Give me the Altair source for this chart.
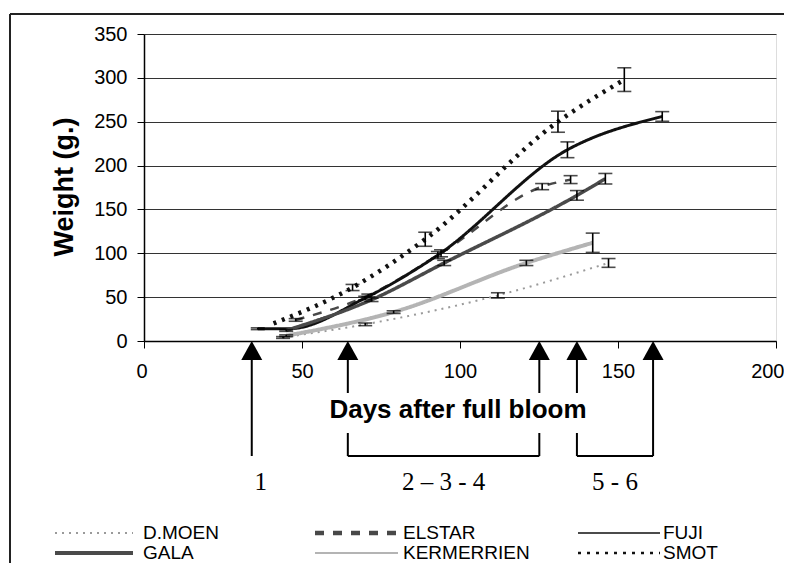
import altair as alt
import pandas as pd

# ---------------- data ----------------
varieties = ["D.MOEN", "ELSTAR", "FUJI", "GALA", "KERMERRIEN", "SMOT"]

dmoen_days = [44, 70, 112, 147]
dmoen_g = [4, 19, 52, 89]
dmoen_err = [1, 1.5, 3, 5]

elstar_days = [48, 71, 94, 126, 135]
elstar_g = [24, 52, 100, 176, 184]
elstar_err = [1.5, 1.5, 4, 3.5, 4.5]

fuji_days = [36, 46, 70, 93, 134, 164]
fuji_g = [14, 14, 49, 98, 218, 256]
fuji_err = [1, 0, 2, 4, 9, 5.5]

gala_days = [45, 72, 95, 137, 146]
gala_g = [12, 47, 89, 166, 185]
gala_err = [1, 2, 3, 5.5, 6]

kerm_days = [45, 79, 121, 142]
kerm_g = [6, 33, 89, 112]
kerm_err = [1, 1.5, 3, 11]

smot_days = [41, 66, 89, 131, 152]
smot_g = [20, 61, 116, 250, 298]
smot_err = [0, 3.5, 8, 12, 13.5]

arrow_days = [34.1, 64.5, 125.1, 137.0, 161.1]
group_labels = ["1", "2 \u2013 3 - 4", "5 - 6"]

x_ticks = [0, 50, 100, 150, 200]
y_ticks = [0, 50, 100, 150, 200, 250, 300, 350]

# ---------------- tables ----------------
series = {
    "D.MOEN": (dmoen_days, dmoen_g, dmoen_err),
    "ELSTAR": (elstar_days, elstar_g, elstar_err),
    "FUJI": (fuji_days, fuji_g, fuji_err),
    "GALA": (gala_days, gala_g, gala_err),
    "KERMERRIEN": (kerm_days, kerm_g, kerm_err),
    "SMOT": (smot_days, smot_g, smot_err),
}
rows = []
for v, (d, g, e) in series.items():
    for di, gi, ei in zip(d, g, e):
        rows.append({"variety": v, "day": di, "g": gi, "lo": gi - ei, "hi": gi + ei, "err": ei})
df = pd.DataFrame(rows)
err_df = df[df["err"] > 0]
caps_df = pd.concat([
    err_df.assign(cap=err_df["lo"]),
    err_df.assign(cap=err_df["hi"]),
])

arrows_df = pd.DataFrame({"day": arrow_days})
full_shafts = arrows_df.iloc[[0, 4]]
split_shafts = arrows_df.iloc[[1, 2, 3]]
brackets_df = pd.DataFrame({
    "d1": [arrow_days[1], arrow_days[3]],
    "d2": [arrow_days[2], arrow_days[4]],
})
label1_df = pd.DataFrame({"day": [arrow_days[0]], "t": [group_labels[0]]})
labels_df = pd.DataFrame({
    "day": [(arrow_days[1] + arrow_days[2]) / 2, (arrow_days[3] + arrow_days[4]) / 2],
    "t": group_labels[1:],
})

# ---------------- styles ----------------
colors = ["#9a9a9a", "#484848", "#111111", "#4a4a4a", "#b4b4b4", "#111111"]
dashes = [[2, 5], [9, 9], [1, 0], [1, 0], [1, 0], [3, 6]]
widths = [2, 4.5, 1.6, 4, 2, 2.5]

FONT = "Liberation Sans"
xscale = alt.Scale(domain=[0, 200], nice=False, zero=False)
yscale = alt.Scale(domain=[0, 350], nice=False, zero=False)

xaxis = alt.Axis(
    values=x_ticks, title=None, grid=False, domainColor="black", domainWidth=1.5,
    tickColor="black", tickSize=7, labelFontSize=20, labelFont=FONT, labelColor="black",
    labelPadding=13, labelFlush=True, labelFlushOffset=8, labelOverlap=False)
yaxis = alt.Axis(
    values=y_ticks, title=None, grid=True, gridColor="#333", gridWidth=1,
    domainColor="black", domainWidth=1.5, tickColor="black", tickSize=7,
    labelFontSize=20, labelFont=FONT, labelColor="black", labelPadding=10,
    labelFlush=False, labelOverlap=False)

X = lambda f: alt.X(f, scale=xscale, axis=xaxis)
Y = lambda f: alt.Y(f, scale=yscale, axis=yaxis)

lines = alt.Chart(df).mark_line(interpolate="monotone").encode(
    x=X("day:Q"),
    y=Y("g:Q"),
    color=alt.Color("variety:N", scale=alt.Scale(domain=varieties, range=colors), legend=None),
    strokeDash=alt.StrokeDash("variety:N", scale=alt.Scale(domain=varieties, range=dashes), legend=None),
    strokeWidth=alt.StrokeWidth("variety:N", scale=alt.Scale(domain=varieties, range=widths), legend=None),
    detail="variety:N",
    order="day:Q",
)

err_rules = alt.Chart(err_df).mark_rule(color="black", strokeWidth=1.6).encode(
    x=X("day:Q"), y=Y("lo:Q"), y2="hi:Q",
)
caps = alt.Chart(caps_df).mark_tick(color="black", orient="horizontal", size=14, thickness=1.6).encode(
    x=X("day:Q"), y=Y("cap:Q"),
)

# arrows
heads = alt.Chart(arrows_df).mark_point(
    shape="M0,-0.9L1,0.9L-1,0.9Z", size=441, filled=True, color="black", opacity=1
).encode(x=X("day:Q"), y=alt.value(316.5))
shafts_full = alt.Chart(full_shafts).mark_rule(color="black", strokeWidth=2).encode(
    x=X("day:Q"), y=alt.value(324), y2=alt.value(422))
shafts_up = alt.Chart(split_shafts).mark_rule(color="black", strokeWidth=2).encode(
    x=X("day:Q"), y=alt.value(324), y2=alt.value(359))
shafts_low = alt.Chart(split_shafts).mark_rule(color="black", strokeWidth=2).encode(
    x=X("day:Q"), y=alt.value(399), y2=alt.value(422))
brackets = alt.Chart(brackets_df).mark_rule(color="black", strokeWidth=2).encode(
    x=X("d1:Q"), x2="d2:Q", y=alt.value(422))
label1 = alt.Chart(label1_df).mark_text(
    font="Liberation Serif", fontSize=25, color="black", baseline="middle", align="center", dx=9
).encode(x=X("day:Q"), y=alt.value(448), text="t:N")
group_text = alt.Chart(labels_df).mark_text(
    font="Liberation Serif", fontSize=25, color="black", baseline="middle", align="center"
).encode(x=X("day:Q"), y=alt.value(448), text="t:N")

# titles
title_df = pd.DataFrame({"t": ["Days after full bloom"]})
x_title = alt.Chart(title_df).mark_text(
    font=FONT, fontSize=26, fontWeight="bold", color="black", baseline="middle", align="center"
).encode(x=alt.value(314), y=alt.value(376), text="t:N")
ytitle_df = pd.DataFrame({"t": ["Weight (g.)"]})
y_title = alt.Chart(ytitle_df).mark_text(
    font=FONT, fontSize=27, fontWeight="bold", color="black", baseline="middle", align="center", angle=270
).encode(x=alt.value(-79), y=alt.value(153), text="t:N")

# manual legend (3 columns x 2 rows)
leg_sym_x1 = [-89, 171, 434]
leg_sym_x2 = [-11, 254, 516]
leg_lab_x = [-1, 259, 519]
leg_row_y = [499, 519]
legend_layers = []
for i, v in enumerate(varieties):
    c, r = i % 3, i // 3
    one = pd.DataFrame({"t": [v]})
    legend_layers.append(
        alt.Chart(one).mark_rule(color=colors[i], strokeDash=dashes[i], strokeWidth=widths[i]).encode(
            x=alt.value(leg_sym_x1[c]), x2=alt.value(leg_sym_x2[c]), y=alt.value(leg_row_y[r]))
    )
    legend_layers.append(
        alt.Chart(one).mark_text(font=FONT, fontSize=19, color="black", align="left", baseline="middle").encode(
            x=alt.value(leg_lab_x[c]), y=alt.value(leg_row_y[r]), text="t:N")
    )

# outer frame
frame_df = pd.DataFrame({"k": [0]})
frame_left = alt.Chart(frame_df).mark_rule(color="#222", strokeWidth=2).encode(
    x=alt.value(-134), y=alt.value(-20), y2=alt.value(560))
frame_top = alt.Chart(frame_df).mark_rule(color="#222", strokeWidth=2).encode(
    x=alt.value(-134), x2=alt.value(700), y=alt.value(-20))

chart = alt.layer(
    frame_left, frame_top, lines, err_rules, caps, heads, shafts_full, shafts_up, shafts_low,
    brackets, label1, group_text, x_title, y_title, *legend_layers,
).properties(
    width=632, height=307,
    padding={"left": 136, "top": 26, "right": 8, "bottom": 222},
    autosize="none",
).configure_view(stroke="#888", strokeWidth=1).configure(background="white")

chart.save("out.html", embed_options={"renderer": "svg", "actions": False})
